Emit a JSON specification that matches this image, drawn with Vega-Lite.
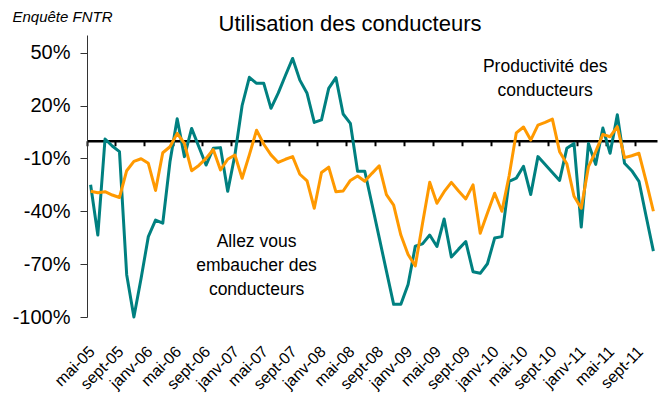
{
  "$schema": "https://vega.github.io/schema/vega-lite/v6.json",
  "width": 570,
  "height": 282,
  "autosize": {"type": "none"},
  "padding": {"left": 87, "top": 35, "right": 1, "bottom": 83},
  "background": "white",
  "config": {"view": {"stroke": null}, "font": "Liberation Sans"},
  "title": {"text": "Utilisation des conducteurs", "fontSize": 22, "font": "Liberation Sans", "fontWeight": "normal", "color": "black", "anchor": "middle", "dx": -22, "offset": -27},
  "data": {"values": [
    {"m": "mai-05", "emb": -25, "prod": -28.7},
    {"m": "juin-05", "emb": -53.5, "prod": -29.5},
    {"m": "juil-05", "emb": 1, "prod": -28.9},
    {"m": "août-05", "emb": -3, "prod": -30.8},
    {"m": "sept-05", "emb": -6.2, "prod": -32.2},
    {"m": "oct-05", "emb": -76, "prod": -17},
    {"m": "nov-05", "emb": -100, "prod": -11.7},
    {"m": "déc-05", "emb": -78, "prod": -10.2},
    {"m": "janv-06", "emb": -54.4, "prod": -12.8},
    {"m": "févr-06", "emb": -45, "prod": -28.2},
    {"m": "mars-06", "emb": -46.8, "prod": -6.8},
    {"m": "avr-06", "emb": -11.9, "prod": -3.4},
    {"m": "mai-06", "emb": 12.5, "prod": 4.2},
    {"m": "juin-06", "emb": -9, "prod": -1.5},
    {"m": "juil-06", "emb": 7, "prod": -17},
    {"m": "août-06", "emb": -3.4, "prod": -14},
    {"m": "sept-06", "emb": -13.8, "prod": -10},
    {"m": "oct-06", "emb": -4.3, "prod": -5},
    {"m": "nov-06", "emb": -3.9, "prod": -16.6},
    {"m": "déc-06", "emb": -28.7, "prod": -10.5},
    {"m": "janv-07", "emb": -8.1, "prod": -8.1},
    {"m": "févr-07", "emb": 20, "prod": -21.3},
    {"m": "mars-07", "emb": 36, "prod": -8},
    {"m": "avr-07", "emb": 32.6, "prod": 6},
    {"m": "mai-07", "emb": 32.6, "prod": -2},
    {"m": "juin-07", "emb": 18.4, "prod": -8},
    {"m": "juil-07", "emb": 27, "prod": -12.3},
    {"m": "août-07", "emb": 37, "prod": -10.5},
    {"m": "sept-07", "emb": 46.7, "prod": -9},
    {"m": "oct-07", "emb": 34.4, "prod": -19},
    {"m": "nov-07", "emb": 26.9, "prod": -22.8},
    {"m": "déc-07", "emb": 10.4, "prod": -38.3},
    {"m": "janv-08", "emb": 11.8, "prod": -18},
    {"m": "févr-08", "emb": 29.7, "prod": -15},
    {"m": "mars-08", "emb": 35.8, "prod": -29},
    {"m": "avr-08", "emb": 15.2, "prod": -28.5},
    {"m": "mai-08", "emb": 9.9, "prod": -22.5},
    {"m": "juin-08", "emb": -17.3, "prod": -20},
    {"m": "juil-08", "emb": -17.3, "prod": -23},
    {"m": "août-08", "emb": -36, "prod": -18.5},
    {"m": "sept-08", "emb": -55, "prod": -14.2},
    {"m": "oct-08", "emb": -74, "prod": -30.6},
    {"m": "nov-08", "emb": -92.8, "prod": -36.5},
    {"m": "déc-08", "emb": -92.8, "prod": -53.5},
    {"m": "janv-09", "emb": -81.6, "prod": -64.5},
    {"m": "févr-09", "emb": -59.8, "prod": -71},
    {"m": "mars-09", "emb": -58.5, "prod": -47},
    {"m": "avr-09", "emb": -53.5, "prod": -23.6},
    {"m": "mai-09", "emb": -60, "prod": -35.5},
    {"m": "juin-09", "emb": -44.4, "prod": -28.9},
    {"m": "juil-09", "emb": -66, "prod": -23.6},
    {"m": "août-09", "emb": -61.5, "prod": -28.5},
    {"m": "sept-09", "emb": -57.2, "prod": -33},
    {"m": "oct-09", "emb": -74.3, "prod": -25},
    {"m": "nov-09", "emb": -75.2, "prod": -52.5},
    {"m": "déc-09", "emb": -69.8, "prod": -41},
    {"m": "janv-10", "emb": -55.2, "prod": -29.8},
    {"m": "févr-10", "emb": -54.4, "prod": -40},
    {"m": "mars-10", "emb": -23, "prod": -20},
    {"m": "avr-10", "emb": -21.2, "prod": 4.5},
    {"m": "mai-10", "emb": -14.5, "prod": 7.8},
    {"m": "juin-10", "emb": -30.5, "prod": 0.4},
    {"m": "juil-10", "emb": -9, "prod": 8.9},
    {"m": "août-10", "emb": -13.5, "prod": 10.4},
    {"m": "sept-10", "emb": -18, "prod": 12.3},
    {"m": "oct-10", "emb": -22.5, "prod": -6.2},
    {"m": "nov-10", "emb": -4.3, "prod": -13},
    {"m": "déc-10", "emb": -1.5, "prod": -31.5},
    {"m": "janv-11", "emb": -49, "prod": -38.3},
    {"m": "févr-11", "emb": -1.5, "prod": -14.7},
    {"m": "mars-11", "emb": -13.4, "prod": -6.2},
    {"m": "avr-11", "emb": 7.2, "prod": 3.6},
    {"m": "mai-11", "emb": -7.1, "prod": 2.3},
    {"m": "juin-11", "emb": 14.8, "prod": 8},
    {"m": "juil-11", "emb": -12.8, "prod": -9.6},
    {"m": "août-11", "emb": -17, "prod": -8.5},
    {"m": "sept-11", "emb": -23, "prod": -7.1},
    {"m": "oct-11", "emb": -43, "prod": -23},
    {"m": "nov-11", "emb": -62.6, "prod": -40}
  ]},
  "layer": [
    {
      "transform": [{"fold": ["emb", "prod"], "as": ["serie", "val"]}],
      "mark": {"type": "line", "strokeWidth": 3, "strokeJoin": "round"},
      "encoding": {
        "x": {
          "field": "m", "type": "ordinal",
          "scale": {"type": "band", "paddingInner": 0, "paddingOuter": 0, "domain": ["mai-05","juin-05","juil-05","août-05","sept-05","oct-05","nov-05","déc-05","janv-06","févr-06","mars-06","avr-06","mai-06","juin-06","juil-06","août-06","sept-06","oct-06","nov-06","déc-06","janv-07","févr-07","mars-07","avr-07","mai-07","juin-07","juil-07","août-07","sept-07","oct-07","nov-07","déc-07","janv-08","févr-08","mars-08","avr-08","mai-08","juin-08","juil-08","août-08","sept-08","oct-08","nov-08","déc-08","janv-09","févr-09","mars-09","avr-09","mai-09","juin-09","juil-09","août-09","sept-09","oct-09","nov-09","déc-09","janv-10","févr-10","mars-10","avr-10","mai-10","juin-10","juil-10","août-10","sept-10","oct-10","nov-10","déc-10","janv-11","févr-11","mars-11","avr-11","mai-11","juin-11","juil-11","août-11","sept-11","oct-11","nov-11"]},
          "axis": {"orient": "bottom", "values": ["mai-05","sept-05","janv-06","mai-06","sept-06","janv-07","mai-07","sept-07","janv-08","mai-08","sept-08","janv-09","mai-09","sept-09","janv-10","mai-10","sept-10","janv-11","mai-11","sept-11"], "labelAngle": -45, "labelFontSize": 16, "labelColor": "black", "labelFont": "Liberation Sans", "ticks": false, "domain": false, "title": null, "labelPadding": 26, "labelOffset": -4, "grid": false}
        },
        "y": {
          "field": "val", "type": "quantitative",
          "scale": {"domain": [-100, 60], "nice": false, "zero": false},
          "axis": {"values": [-100, -70, -40, -10, 20, 50], "labelExpr": "datum.value + '%'", "labelFontSize": 20, "labelFont": "Liberation Sans", "labelColor": "black", "tickSize": 7, "tickColor": "#333333", "domainColor": "#333333", "grid": false, "labelPadding": 10, "title": "Enquête FNTR", "titleAngle": 0, "titleX": -75, "titleY": -14, "titleAlign": "left", "titleBaseline": "alphabetic", "titleFontStyle": "italic", "titleFontWeight": "normal", "titleFontSize": 15, "titleFont": "Liberation Sans", "titleColor": "black"}
        },
        "color": {"field": "serie", "type": "nominal", "scale": {"domain": ["emb", "prod"], "range": ["#008080", "#FF9900"]}, "legend": null}
      }
    },
    {
      "data": {"values": [
        {"m": "avr-07", "v": -57.4, "t": "Allez vous\nembaucher des\nconducteurs"},
        {"m": "août-10", "v": 41.8, "t": "Productivité des\nconducteurs"}
      ]},
      "mark": {"type": "text", "fontSize": 17.5, "font": "Liberation Sans", "lineBreak": "\n", "lineHeight": 24, "align": "center", "baseline": "middle", "color": "black"},
      "encoding": {
        "x": {"field": "m", "type": "ordinal",
          "axis": {"orient": "bottom", "offset": -176.25, "values": ["mai-05","sept-05","janv-06","mai-06","sept-06","janv-07","mai-07","sept-07","janv-08","mai-08","sept-08","janv-09","mai-09","sept-09","janv-10","mai-10","sept-10","janv-11","mai-11","sept-11"], "bandPosition": 0, "labels": false, "ticks": true, "tickSize": 5, "tickColor": "black", "tickWidth": 2, "domain": true, "domainColor": "black", "domainWidth": 2.5, "title": null, "grid": false}},
        "y": {"field": "v", "type": "quantitative"},
        "text": {"field": "t"}
      }
    }
  ],
  "resolve": {"axis": {"x": "independent"}}
}
